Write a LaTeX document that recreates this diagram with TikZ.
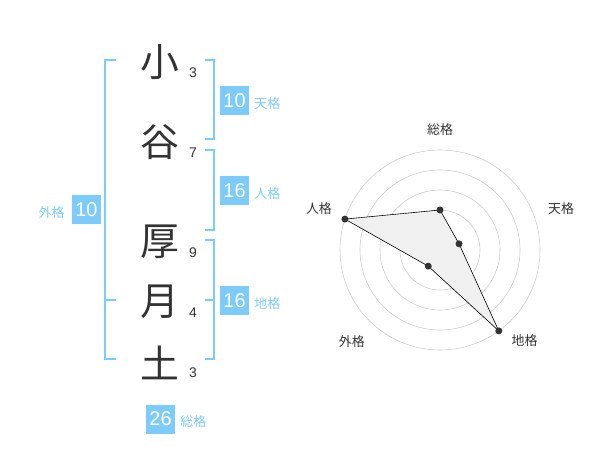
\documentclass[tikz,border=0pt]{standalone}
\usepackage{fontspec}
\setmainfont{Liberation Sans}
\newfontfamily\jpfont{Noto Sans CJK JP}
\usepackage{xcolor}
\usetikzlibrary{positioning}
\definecolor{kakublue}{RGB}{125,203,250}
\definecolor{inkgray}{RGB}{51,51,51}
\definecolor{ringgray}{RGB}{204,204,204}

\begin{document}
\begin{tikzpicture}[x=1bp, y=-1bp,
    kanji/.style={font=\jpfont\fontsize{39}{39}\selectfont, text=inkgray, inner sep=0pt},
    strokes/.style={font=\fontsize{14}{14}\selectfont, text=inkgray, inner sep=0pt},
    kakubox/.style={fill=kakublue, text=white, minimum size=29bp, inner sep=0pt, font=\fontsize{20}{20}\selectfont},
    kakulabel/.style={text=kakublue, inner sep=0pt, font=\jpfont\fontsize{13}{13}\selectfont},
    bracket/.style={kakublue, line width=1.5bp},
    ring/.style={ringgray, line width=0.6bp},
    dot/.style={circle, fill=inkgray, inner sep=0pt, minimum size=7bp},
    axislabel/.style={text=inkgray, inner sep=0pt, font=\jpfont\fontsize{13}{13}\selectfont}]
    \useasboundingbox (0,0) rectangle (600,470);

    % Name, one character per line, with stroke counts
    \node[kanji] (ko) at (160,62) {小};
    \node[kanji] (tani) at (160,142) {谷};
    \node[kanji] (atsu) at (160,242) {厚};
    \node[kanji] (tsuki) at (160,302) {月};
    \node[kanji] (tsuchi) at (160,363) {土};
    \node[strokes] (koN) at (193,73) {3};
    \node[strokes] (taniN) at (193,153) {7};
    \node[strokes] (atsuN) at (193,253) {9};
    \node[strokes] (tsukiN) at (193,313) {4};
    \node[strokes] (tsuchiN) at (193,373) {3};

    % Brackets
    \draw[bracket] (116,60) -- (105,60) -- (105,359) -- (116,359);
    \draw[bracket] (105,300) -- (116,300);
    \draw[bracket] (205,60) -- (214,60) -- (214,139) -- (205,139);
    \draw[bracket] (205,150) -- (214,150) -- (214,230) -- (205,230);
    \draw[bracket] (205,240) -- (214,240) -- (214,359) -- (205,359);
    \draw[bracket] (205,300) -- (214,300);

    % Scores
    \node[kakubox] (tenbox) at (234.5,100.5) {10};
    \node[kakubox] (jinbox) at (234.5,190.5) {16};
    \node[kakubox] (chibox) at (234.5,300.5) {16};
    \node[kakubox] (gaibox) at (86.5,210) {10};
    \node[kakubox] (soubox) at (160.5,419) {26};
    \node[kakulabel, right=5bp of tenbox, yshift=-3bp] (tenlabel) {天格};
    \node[kakulabel, right=5bp of jinbox, yshift=-3bp] (jinlabel) {人格};
    \node[kakulabel, right=5bp of chibox, yshift=-3bp] (chilabel) {地格};
    \node[kakulabel, right=5bp of soubox, yshift=-3bp] (soulabel) {総格};
    \node[kakulabel, left=7bp of gaibox, yshift=-3bp] (gailabel) {外格};

    % Radar chart
    \begin{scope}[shift={(440,250)}, y=1bp]
        \foreach \r in {20,40,60,80,100}
            \draw[ring] (0,0) circle (\r bp);
        \fill[ringgray] (0,0) circle (3.5bp);
        \coordinate (sou) at (90:40);
        \coordinate (ten) at (18:20);
        \coordinate (chi) at (-54:100);
        \coordinate (gai) at (-126:20);
        \coordinate (jin) at (162:100);
        \filldraw[fill=gray!12, draw=black, line width=0.6bp] (sou) -- (ten) -- (chi) -- (gai) -- (jin) -- cycle;
        \node[dot] (souDot) at (sou) {};
        \node[dot] (tenDot) at (ten) {};
        \node[dot] (chiDot) at (chi) {};
        \node[dot] (gaiDot) at (gai) {};
        \node[dot] (jinDot) at (jin) {};
        \node[axislabel] (souAxis) at (90:120) {総格};
        \node[axislabel] (tenAxis) at (19:128) {天格};
        \node[axislabel] (jinAxis) at (161:128) {人格};
        \node[axislabel] (gaiAxis) at (-134:127) {外格};
        \node[axislabel] (chiAxis) at (-47:124) {地格};
    \end{scope}
\end{tikzpicture}
\end{document}
